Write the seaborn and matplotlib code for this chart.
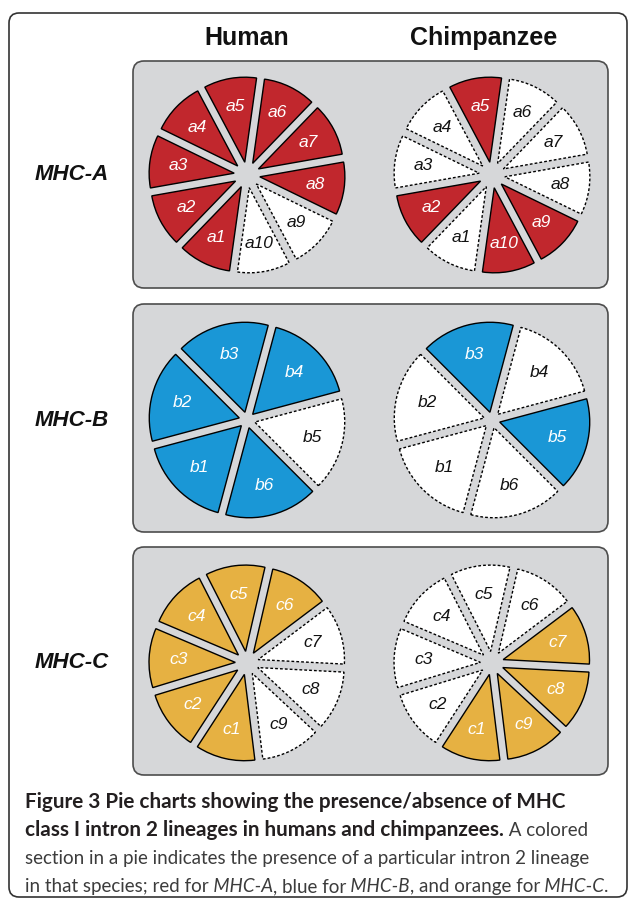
import math
import matplotlib
matplotlib.use("Agg")
import matplotlib.pyplot as plt
import seaborn as sns
from matplotlib.patches import FancyBboxPatch

W, H = 629, 898

# lineage names for each locus
lineages_a = ["a1", "a2", "a3", "a4", "a5", "a6", "a7", "a8", "a9", "a10"]
lineages_b = ["b1", "b2", "b3", "b4", "b5", "b6"]
lineages_c = ["c1", "c2", "c3", "c4", "c5", "c6", "c7", "c8", "c9"]

# presence (1) / absence (0) of each lineage
human_a = [1, 1, 1, 1, 1, 1, 1, 1, 0, 0]
chimp_a = [0, 1, 0, 0, 1, 0, 0, 0, 1, 1]
human_b = [1, 1, 1, 1, 0, 1]
chimp_b = [0, 0, 1, 0, 1, 0]
human_c = [1, 1, 1, 1, 1, 1, 0, 0, 0]
chimp_c = [1, 0, 0, 0, 0, 0, 1, 1, 1]

row_labels = ["MHC-A", "MHC-B", "MHC-C"]
col_labels = ["Human", "Chimpanzee"]
locus_colors = ["#c1272d", "#1a97d6", "#e6b142"]

caption = [
    [("Figure 3 Pie charts showing the presence/absence of MHC", "bold")],
    [("class I intron 2 lineages in humans and chimpanzees.", "bold"), (" A colored", "normal")],
    [("section in a pie indicates the presence of a particular intron 2 lineage", "normal")],
    [("in that species; red for", "normal"), (" MHC-A", "italic"), (", blue for", "normal"),
     (" MHC-B", "italic"), (", and orange for", "normal"), (" MHC-C", "italic"), (".", "normal")],
]

sns.set_theme(style="white")
plt.rcParams["font.family"] = ["Liberation Sans", "DejaVu Sans"]

palette = sns.color_palette(locus_colors)
rows = [
    (lineages_a, human_a, chimp_a, 262, 175),
    (lineages_b, human_b, chimp_b, 255, 420),
    (lineages_c, human_c, chimp_c, 277, 663),
]
col_x = [247, 492]
head_x = [247, 484]
panel_y = [(61, 288), (304, 532), (547, 775)]

fig = plt.figure(figsize=(W / 100, H / 100), dpi=100)
ax = fig.add_axes([0, 0, 1, 1])

# outer frame
ax.add_patch(FancyBboxPatch((9, H - 897), 618, 884, boxstyle="round,pad=0,rounding_size=10",
                            fc="white", ec="#333333", lw=1.2, zorder=0))

for (y0, y1) in panel_y:
    ax.add_patch(FancyBboxPatch((133, H - y1), 475, y1 - y0, boxstyle="round,pad=0,rounding_size=11",
                                fc="#d6d7d9", ec="#4d4d4d", lw=1.2, zorder=1))

outer_r = 98
gap = 8
for i, (names, hum, chi, start, cy) in enumerate(rows):
    n = len(names)
    d = (gap / 2) / math.sin(math.pi / n)
    R = outer_r - d
    for cx, pres in zip(col_x, [hum, chi]):
        fills = [palette[i] if p else "white" for p in pres]
        wedges, texts = ax.pie([1] * n, labels=names, colors=fills, explode=[d] * n,
                               radius=R, center=(cx, H - cy), startangle=start,
                               counterclock=False, labeldistance=0.66,
                               wedgeprops=dict(linewidth=1.0, edgecolor="black", zorder=2),
                               textprops=dict(fontsize=12.5, fontstyle="italic", ha="center",
                                              va="center", zorder=3))
        for w, t, p in zip(wedges, texts, pres):
            if p:
                t.set_color("white")
            else:
                w.set_linestyle((0, (2, 1.5)))
                t.set_color("#111111")

for x, lab in zip(head_x, col_labels):
    ax.text(x, H - 38, lab, fontsize=18, fontweight="bold",
            ha="center", va="center", color="#111111")

for (names, hum, chi, start, cy), lab in zip(rows, row_labels):
    ax.text(72, H - cy, lab, fontsize=16, fontweight="bold", fontstyle="italic",
            ha="center", va="center", color="#111111")

ax.set_xlim(0, W)
ax.set_ylim(0, H)
ax.set_aspect("equal")
ax.axis("off")

cap_font = ["Lato", "DejaVu Sans"]
styles = {
    "bold": dict(family=cap_font, fontweight="bold", color="#231f20"),
    "normal": dict(family=cap_font, color="#3c3c3c"),
    "italic": dict(family=cap_font, fontstyle="italic", color="#3c3c3c"),
}
renderer = fig.canvas.get_renderer()


def put_line(x, y, parts, size, keep=True):
    made = []
    for text, style in parts:
        t = ax.text(x, y, text, fontsize=size, ha="left", va="baseline", **styles[style])
        bb = t.get_window_extent(renderer)
        x = ax.transData.inverted().transform((bb.x1, bb.y0))[0]
        made.append(t)
    if not keep:
        for t in made:
            t.remove()
    return x


x_left = 25
# fit the caption to the width of the printed text block
probe_bold = put_line(x_left, 0, caption[0], 13, keep=False) - x_left
probe_norm = put_line(x_left, 0, caption[2], 13, keep=False) - x_left
size_bold = 13 * 542 / probe_bold
size_norm = 13 * 563 / probe_norm
for k, parts in enumerate(caption):
    x = x_left
    for text, style in parts:
        x = put_line(x, H - (808 + 28 * k), [(text, style)],
                     size_bold if style == "bold" else size_norm)

fig.savefig("out.png", dpi=100)
